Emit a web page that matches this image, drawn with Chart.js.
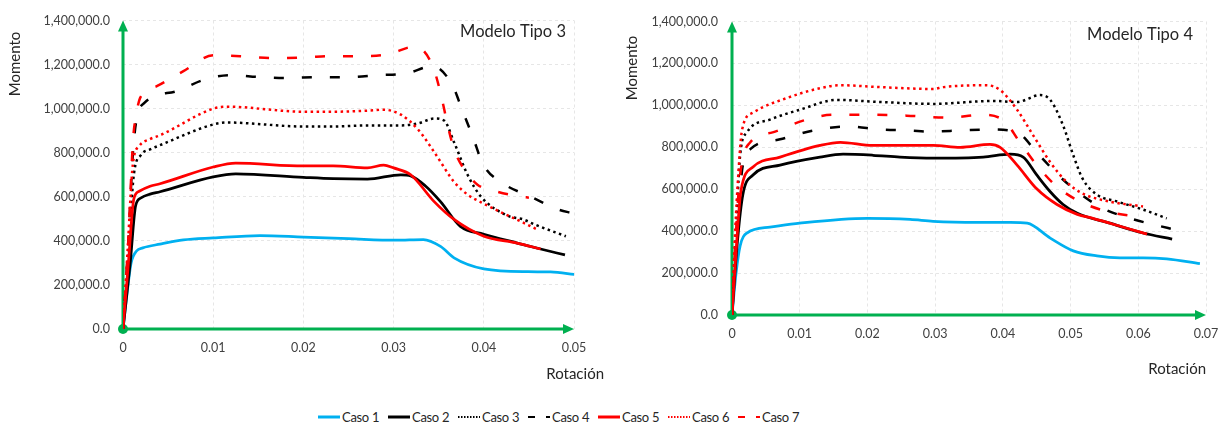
<!DOCTYPE html>
<html>
<head>
<meta charset="utf-8">
<script src="https://cdn.jsdelivr.net/npm/chart.js@4.4.1/dist/chart.umd.min.js"></script>
<style>
  body { margin: 0; background: #fff; }
  #wrap { position: relative; width: 1230px; height: 429px; }
  .box { position: absolute; top: 0; width: 615px; height: 400px; }
  #legend { position: absolute; left: 318px; top: 409px; display: flex; font: 13px Lato, sans-serif; color: #262626; }
  #legend .item { display: flex; align-items: center; width: 70px; }
  #legend canvas { margin-right: 2px; }
  #legend span { white-space: nowrap; letter-spacing: -0.3px; }
</style>
</head>
<body>
<div id="wrap">
  <div class="box" style="left:0"><canvas id="tipo3"></canvas></div>
  <div class="box" style="left:615px"><canvas id="tipo4"></canvas></div>
  <div id="legend"></div>
</div>
<script>
const seriesNames = ['Caso 1', 'Caso 2', 'Caso 3', 'Caso 4', 'Caso 5', 'Caso 6', 'Caso 7'];
const momentTicks = [0, 200000, 400000, 600000, 800000, 1000000, 1200000, 1400000];

// Modelo Tipo 3  [rotación, momento]
const t3Caso1 = [[0,0],[0.00056,200000],[0.0009,300000],[0.0015,354000],[0.0022,368000],[0.0041,385000],[0.0067,404000],[0.01,413000],[0.0152,424000],[0.02,417000],[0.025,410000],[0.0302,403000],[0.0333,406000],[0.0352,375000],[0.0367,323000],[0.04,273000],[0.0449,260000],[0.0474,259000],[0.0502,247000]];
const t3Caso2 = [[0,0],[0.0008,300000],[0.0014,560000],[0.002,595000],[0.003,612000],[0.0041,623000],[0.01,690000],[0.0125,704000],[0.02,688000],[0.0233,682000],[0.0271,680000],[0.0308,700000],[0.0319,695000],[0.0335,650000],[0.0352,578000],[0.0374,466000],[0.04,430000],[0.0437,390000],[0.0463,363000],[0.049,336000]];
const t3Caso3 = [[0,0],[0.0006,350000],[0.0012,700000],[0.002,790000],[0.003,815000],[0.0041,834000],[0.01,928000],[0.0115,937000],[0.02,919000],[0.0233,919000],[0.027,924000],[0.0308,924000],[0.0327,933000],[0.0345,955000],[0.0356,946000],[0.0367,848000],[0.0382,700000],[0.0397,600000],[0.0426,515000],[0.0444,497000],[0.0456,475000],[0.0491,421000]];
const t3Caso4 = [[0,0],[0.0006,400000],[0.0011,800000],[0.0015,950000],[0.0024,1027000],[0.006,1080000],[0.0089,1130000],[0.0119,1152000],[0.0152,1143000],[0.0182,1139000],[0.0217,1143000],[0.025,1143000],[0.0282,1152000],[0.0315,1161000],[0.0343,1193000],[0.0365,1108000],[0.0376,995000],[0.0388,870000],[0.0399,749000],[0.0422,659000],[0.0452,601000],[0.0482,543000],[0.0499,525000]];
const t3Caso5 = [[0,0],[0.0006,300000],[0.0012,590000],[0.0018,625000],[0.003,648000],[0.0041,659000],[0.01,735000],[0.0125,753000],[0.02,740000],[0.0233,740000],[0.0271,731000],[0.0289,744000],[0.03,731000],[0.0319,700000],[0.0345,578000],[0.0367,497000],[0.04,421000],[0.0437,390000],[0.0463,363000]];
const t3Caso6 = [[0,0],[0.0005,350000],[0.0011,750000],[0.0018,830000],[0.003,862000],[0.0041,879000],[0.01,1000000],[0.0115,1009000],[0.02,986000],[0.0233,986000],[0.0271,991000],[0.0289,995000],[0.0308,973000],[0.0327,906000],[0.0345,803000],[0.0367,668000],[0.0382,610000],[0.0397,575000],[0.0419,530000],[0.044,490000],[0.0461,448000]];
const t3Caso7 = [[0,0],[0.0006,400000],[0.0011,850000],[0.0015,980000],[0.0019,1049000],[0.0038,1103000],[0.0067,1170000],[0.01,1242000],[0.013,1238000],[0.0171,1229000],[0.0204,1233000],[0.023,1238000],[0.0261,1238000],[0.0293,1246000],[0.0324,1282000],[0.0343,1197000],[0.0352,1072000],[0.036,924000],[0.0367,816000],[0.0378,726000],[0.0393,655000],[0.0415,623000],[0.0441,601000],[0.045,596000]];

// Modelo Tipo 4  [rotación, momento]
const t4Caso1 = [[0,0],[0.0006,200000],[0.0012,330000],[0.0022,391000],[0.0056,419000],[0.01,438000],[0.02,461000],[0.0263,456000],[0.0297,447000],[0.0362,442000],[0.0411,442000],[0.0436,438000],[0.047,367000],[0.0504,306000],[0.0539,282000],[0.0573,273000],[0.0607,273000],[0.0642,268000],[0.0691,245000]];
const t4Caso2 = [[0,0],[0.0008,350000],[0.0016,574000],[0.0031,668000],[0.0071,715000],[0.013,753000],[0.0164,767000],[0.0208,762000],[0.0248,753000],[0.0297,748000],[0.0371,753000],[0.0411,767000],[0.043,753000],[0.045,668000],[0.047,588000],[0.0489,527000],[0.051,485000],[0.0558,438000],[0.0607,391000],[0.065,362000]];
const t4Caso3 = [[0,0],[0.0006,400000],[0.0012,762000],[0.0022,871000],[0.0056,932000],[0.01,979000],[0.0155,1026000],[0.0219,1016000],[0.0297,1007000],[0.0386,1021000],[0.0421,1016000],[0.0455,1049000],[0.047,1026000],[0.0489,904000],[0.0504,762000],[0.0518,649000],[0.0539,574000],[0.0569,541000],[0.0607,503000],[0.0642,461000]];
const t4Caso4 = [[0,0],[0.0007,400000],[0.0016,715000],[0.0027,791000],[0.0071,838000],[0.012,880000],[0.017,899000],[0.0219,885000],[0.0263,880000],[0.0292,875000],[0.0337,880000],[0.0381,885000],[0.0421,871000],[0.045,776000],[0.048,673000],[0.051,588000],[0.0548,508000],[0.0588,461000],[0.0632,424000],[0.065,410000]];
const t4Caso5 = [[0,0],[0.0007,350000],[0.0013,588000],[0.0031,706000],[0.0071,753000],[0.013,809000],[0.016,824000],[0.0208,809000],[0.0253,809000],[0.0297,809000],[0.0337,800000],[0.0381,814000],[0.0396,800000],[0.0421,715000],[0.045,602000],[0.048,527000],[0.051,480000],[0.0533,461000],[0.0583,414000],[0.0613,386000]];
const t4Caso6 = [[0,0],[0.0004,350000],[0.0008,602000],[0.0015,885000],[0.0031,965000],[0.0081,1035000],[0.013,1082000],[0.016,1096000],[0.0219,1087000],[0.0297,1078000],[0.0312,1087000],[0.0376,1096000],[0.0396,1073000],[0.0421,979000],[0.0445,856000],[0.047,729000],[0.0494,635000],[0.0518,579000],[0.0558,541000],[0.0607,518000]];
const t4Caso7 = [[0,0],[0.0006,400000],[0.0012,668000],[0.0027,824000],[0.006,871000],[0.0105,927000],[0.0149,955000],[0.0204,955000],[0.0258,951000],[0.0322,941000],[0.0366,955000],[0.04,932000],[0.0425,824000],[0.045,715000],[0.048,612000],[0.0514,541000],[0.0554,494000],[0.0598,470000],[0.0607,468000]];

const colors = ['#00B0F0', '#000000', '#000000', '#000000', '#FF0000', '#FF0000', '#FF0000'];
const dashes = [[], [], [2.5, 3.5], [10, 18], [], [2.5, 3.5], [10, 18]];
const green = '#00B050';
const font = 'Lato, sans-serif';

function makeDatasets(list) {
  return list.map((pts, i) => ({
    label: seriesNames[i],
    data: pts.map(([x, y]) => ({ x, y })),
    borderColor: colors[i],
    borderWidth: dashes[i].length ? 2.5 : 2.75,
    borderDash: dashes[i],
    pointRadius: 0,
    fill: false,
    cubicInterpolationMode: 'monotone',
    order: 7 - i
  }));
}

// green arrows, axis titles and panel label
const decor = {
  id: 'decor',
  beforeDatasetsDraw(chart, args, o) {
    const { ctx, scales: { x, y } } = chart;
    const x0 = x.getPixelForValue(0), y0 = y.getPixelForValue(0);
    const xe = x.right, ye = y.top;
    ctx.save();
    ctx.strokeStyle = green;
    ctx.fillStyle = green;
    ctx.lineWidth = 3;
    ctx.beginPath();
    ctx.moveTo(x0, y0); ctx.lineTo(x0, ye + 8);
    ctx.moveTo(x0, y0); ctx.lineTo(xe - 8, y0);
    ctx.stroke();
    ctx.beginPath();
    ctx.moveTo(x0, ye); ctx.lineTo(x0 - 5, ye + 11); ctx.lineTo(x0 + 5, ye + 11); ctx.closePath();
    ctx.moveTo(xe, y0); ctx.lineTo(xe - 11, y0 - 5); ctx.lineTo(xe - 11, y0 + 5); ctx.closePath();
    ctx.fill();
    ctx.beginPath();
    ctx.arc(x0, y0, 5, 0, Math.PI * 2);
    ctx.fill();
    ctx.restore();
  },
  afterDraw(chart, args, o) {
    const ctx = chart.ctx;
    ctx.save();
    ctx.fillStyle = '#262626';
    ctx.textBaseline = 'middle';
    ctx.font = '16.5px ' + font;
    ctx.textAlign = 'right';
    ctx.fillText(o.panel, o.panelX, o.panelY);
    ctx.font = '15px ' + font;
    ctx.fillText('Rotación', o.rotX, o.rotY);
    ctx.translate(o.momX, o.momY);
    ctx.rotate(-Math.PI / 2);
    ctx.textAlign = 'center';
    ctx.fillText('Momento', 0, 0);
    ctx.restore();
  }
};

function makeChart(id, list, xMax, area, text) {
  return new Chart(document.getElementById(id), {
    type: 'line',
    data: { datasets: makeDatasets(list) },
    options: {
      responsive: true,
      maintainAspectRatio: false,
      animation: false,
      layout: { padding: { left: 0, top: area.top, right: 615 - area.right, bottom: 0 } },
      plugins: { legend: { display: false }, tooltip: { enabled: false }, decor: text },
      scales: {
        x: {
          type: 'linear', min: 0, max: xMax,
          afterFit: s => { s.height = 400 - area.bottom; },
          ticks: { stepSize: 0.01, padding: 11, color: '#404040', font: { family: font, size: 12.5 },
                   callback: v => String(+v.toFixed(2)) },
          grid: { color: '#E6E6E6', drawTicks: false },
          border: { display: false, dash: [3, 3] }
        },
        y: {
          min: 0, max: 1400000,
          afterFit: s => { s.width = area.left; },
          afterBuildTicks: s => { s.ticks = momentTicks.map(v => ({ value: v })); },
          ticks: { padding: area.left === 123 ? 13 : 14, color: '#404040', font: { family: font, size: 12.5 },
                   callback: v => v.toLocaleString('en-US', { minimumFractionDigits: 1, maximumFractionDigits: 1 }) },
          grid: { color: '#E6E6E6', drawTicks: false },
          border: { display: false, dash: [3, 3] }
        }
      }
    },
    plugins: [decor]
  });
}

Chart.defaults.scale.grid.borderDash = [3, 3];

makeChart('tipo3', [t3Caso1, t3Caso2, t3Caso3, t3Caso4, t3Caso5, t3Caso6, t3Caso7], 0.05,
  { left: 123, right: 574, top: 17, bottom: 329 },
  { panel: 'Modelo Tipo 3', panelX: 566, panelY: 32, rotX: 604, rotY: 374, momX: 15, momY: 64 });

makeChart('tipo4', [t4Caso1, t4Caso2, t4Caso3, t4Caso4, t4Caso5, t4Caso6, t4Caso7], 0.07,
  { left: 117, right: 591, top: 17, bottom: 315 },
  { panel: 'Modelo Tipo 4', panelX: 578, panelY: 35, rotX: 591, rotY: 369, momX: 17, momY: 68 });

// legend
const legend = document.getElementById('legend');
seriesNames.forEach((name, i) => {
  const item = document.createElement('div');
  item.className = 'item';
  const c = document.createElement('canvas');
  c.width = 22; c.height = 8;
  const g = c.getContext('2d');
  g.strokeStyle = colors[i];
  g.lineWidth = dashes[i].length ? 2 : 3;
  g.setLineDash(dashes[i].length === 2 && dashes[i][0] > 5 ? [7, 11] : dashes[i].length ? [1.5, 1.5] : []);
  g.beginPath(); g.moveTo(0, 4); g.lineTo(22, 4); g.stroke();
  const t = document.createElement('span');
  t.textContent = name;
  item.appendChild(c); item.appendChild(t);
  legend.appendChild(item);
});
</script>
</body>
</html>
